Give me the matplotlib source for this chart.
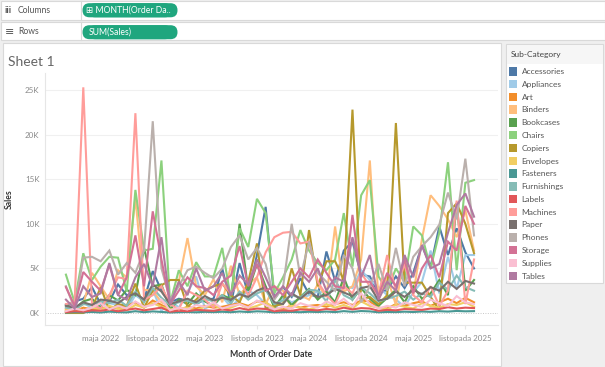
import matplotlib
matplotlib.use("Agg")
import matplotlib.pyplot as plt
from matplotlib.patches import Rectangle, FancyBboxPatch
import numpy as np

plt.rcParams['font.family'] = ['Lato', 'DejaVu Sans']

# ---------------- data (values in thousands of dollars) ----------------
months = list(range(48))  # Jan 2022 .. Dec 2025
tick_months = [4, 10, 16, 22, 28, 34, 40, 46]
tick_labels = ["maja 2022", "listopada 2022", "maja 2023", "listopada 2023",
               "maja 2024", "listopada 2024", "maja 2025", "listopada 2025"]
y_ticks = [0, 5000, 10000, 15000, 20000, 25000]
y_tick_labels = ["0K", "5K", "10K", "15K", "20K", "25K"]

subcategories = ["Accessories", "Appliances", "Art", "Binders", "Bookcases", "Chairs",
                 "Copiers", "Envelopes", "Fasteners", "Furnishings", "Labels", "Machines",
                 "Paper", "Phones", "Storage", "Supplies", "Tables"]
colors = ["#4e79a7", "#a0cbe8", "#f28e2b", "#ffbe7d", "#59a14f", "#8cd17d",
          "#b6992d", "#f1ce63", "#499894", "#86bcb6", "#e15759", "#ff9d9a",
          "#79706e", "#bab0ac", "#d37295", "#fabfd2", "#b07aa1"]

accessories = [0.9, 1.3, 1.6, 2.9, 1.0, 1.3, 3.2, 2.0, 2.2, 1.5, 4.7, 2.5,
               1.2, 1.6, 1.4, 1.0, 1.5, 1.6, 5.0, 1.0, 5.6, 2.0, 6.5, 11.9,
               1.6, 2.9, 1.8, 3.9, 2.1, 1.8, 6.9, 3.6, 7.0, 8.0, 4.3, 4.1,
               2.2, 2.6, 4.1, 2.8, 4.5, 7.6, 5.2, 9.7, 6.5, 9.5, 6.8, 5.0]
appliances = [0.6, 0.3, 1.2, 0.5, 0.8, 1.1, 0.9, 0.4, 2.0, 1.3, 2.6, 0.2,
              1.5, 0.6, 2.3, 4.1, 0.5, 1.0, 1.8, 0.7, 1.6, 2.5, 2.0, 1.0,
              0.3, 1.8, 1.2, 1.6, 2.0, 2.4, 2.3, 2.6, 3.0, 2.8, 4.8, 3.7,
              2.9, 2.0, 1.5, 0.7, 2.3, 3.5, 7.0, 2.2, 6.3, 2.7, 6.5, 6.5]
art = [0.3, 0.2, 0.6, 0.4, 0.5, 0.7, 0.5, 0.8, 1.2, 0.6, 1.4, 0.9,
       0.4, 0.3, 0.7, 0.5, 0.8, 0.6, 0.7, 0.9, 1.1, 0.8, 1.3, 1.2,
       0.5, 0.4, 0.9, 0.6, 0.8, 0.9, 0.7, 1.0, 1.2, 0.9, 1.4, 1.3,
       0.6, 0.5, 1.0, 0.8, 1.1, 1.3, 0.8, 1.2, 1.6, 1.1, 1.7, 1.2]
binders = [0.5, 0.3, 1.0, 4.5, 3.0, 1.5, 4.8, 4.0, 12.9, 2.6, 2.5, 1.2,
           0.8, 3.5, 8.4, 3.0, 2.0, 3.8, 1.2, 5.3, 2.0, 3.2, 4.0, 1.0,
           3.0, 2.5, 0.5, 2.0, 1.5, 3.2, 1.8, 9.7, 2.4, 3.0, 6.0, 17.1,
           1.5, 4.0, 0.9, 6.4, 2.0, 8.3, 13.2, 12.0, 10.5, 8.5, 11.5, 7.0]
bookcases = [0.9, 0.5, 1.3, 1.6, 0.6, 2.0, 1.4, 2.6, 2.0, 7.3, 3.0, 3.2,
             0.4, 1.5, 1.0, 2.2, 1.3, 0.8, 2.0, 1.6, 10.0, 2.5, 5.5, 3.0,
             0.6, 2.0, 0.9, 1.8, 2.7, 1.5, 2.4, 1.2, 4.0, 1.5, 2.8, 1.6,
             0.8, 1.7, 2.6, 1.2, 3.0, 1.6, 2.2, 3.7, 2.0, 12.3, 2.5, 3.7]
chairs = [4.3, 1.2, 6.7, 3.7, 5.2, 6.3, 6.2, 2.4, 13.8, 7.0, 7.2, 17.1,
          1.1, 4.8, 3.0, 5.7, 4.1, 4.1, 7.3, 1.6, 9.5, 7.4, 12.8, 11.2,
          2.2, 4.0, 6.0, 9.3, 7.0, 5.6, 4.8, 6.0, 11.2, 5.2, 13.2, 14.9,
          4.1, 2.5, 5.0, 3.5, 9.7, 8.7, 5.0, 9.0, 16.9, 4.8, 14.6, 14.9]
copiers = [0.0, 0.0, 0.0, 0.5, 2.9, 0.3, 1.0, 0.8, 3.3, 0.6, 2.5, 3.1,
           3.7, 3.7, 0.7, 1.5, 2.5, 3.0, 3.3, 2.0, 1.2, 3.5, 7.8, 0.5,
           0.8, 1.0, 5.0, 2.0, 9.3, 3.0, 5.8, 5.8, 3.7, 22.8, 1.5, 1.8,
           1.0, 2.0, 21.3, 3.4, 3.4, 3.4, 1.8, 0.3, 11.2, 12.3, 10.0, 6.7]
envelopes = [0.3, 0.5, 0.2, 0.6, 0.4, 0.8, 0.5, 0.3, 0.9, 0.6, 1.1, 0.7,
             0.4, 0.5, 0.6, 0.3, 0.7, 0.9, 0.4, 0.6, 1.0, 0.5, 0.8, 1.2,
             0.5, 0.3, 0.8, 0.6, 0.4, 0.7, 1.0, 0.6, 0.9, 0.5, 1.3, 0.8,
             0.6, 0.4, 0.9, 0.7, 0.5, 1.1, 0.8, 0.6, 1.0, 0.9, 1.2, 0.7]
fasteners = [0.05, 0.10, 0.08, 0.12, 0.06, 0.15, 0.10, 0.07, 0.20, 0.09, 0.18, 0.12,
             0.06, 0.09, 0.11, 0.08, 0.13, 0.10, 0.14, 0.09, 0.17, 0.11, 0.19, 0.15,
             0.07, 0.10, 0.12, 0.09, 0.14, 0.11, 0.16, 0.10, 0.21, 0.13, 0.22, 0.18,
             0.08, 0.12, 0.10, 0.15, 0.11, 0.17, 0.13, 0.20, 0.16, 0.23, 0.19, 0.21]
furnishings = [0.6, 0.4, 1.0, 0.9, 1.3, 1.1, 1.5, 0.8, 2.4, 1.2, 2.8, 1.7,
               0.9, 1.2, 1.4, 1.0, 1.6, 1.3, 2.0, 1.1, 2.4, 1.5, 2.2, 2.6,
               1.0, 1.4, 2.0, 1.7, 2.6, 2.5, 1.3, 3.7, 2.0, 1.5, 2.9, 2.2,
               1.3, 1.6, 1.9, 2.4, 1.5, 2.2, 1.8, 3.4, 2.6, 4.2, 2.9, 2.5]
labels = [0.10, 0.20, 0.15, 0.30, 0.25, 0.40, 0.20, 0.35, 0.50, 0.30, 0.45, 0.60,
          0.15, 0.25, 0.20, 0.35, 0.30, 0.25, 0.40, 0.30, 0.55, 0.35, 0.50, 0.45,
          0.20, 0.30, 0.25, 0.40, 0.35, 0.30, 0.45, 0.35, 0.60, 0.40, 0.55, 0.50,
          0.25, 0.35, 0.30, 0.45, 0.40, 0.35, 0.50, 0.45, 0.65, 0.50, 0.60, 0.55]
machines = [1.0, 1.2, 25.3, 1.0, 0.5, 2.0, 4.0, 3.8, 22.4, 1.5, 2.0, 3.0,
            1.0, 0.4, 2.5, 2.0, 1.5, 0.6, 3.3, 2.2, 3.5, 2.0, 4.0, 6.8,
            8.5, 9.0, 9.1, 7.8, 8.0, 3.5, 2.0, 1.0, 3.0, 2.2, 4.5, 3.0,
            2.0, 6.5, 2.5, 5.5, 2.0, 1.2, 3.0, 0.8, 2.5, 12.6, 1.0, 6.0]
paper = [0.8, 0.6, 1.2, 0.9, 1.5, 1.4, 1.1, 1.8, 2.2, 1.5, 3.2, 2.4,
         1.0, 1.3, 1.6, 1.2, 1.9, 1.4, 1.7, 1.5, 2.1, 1.8, 2.5, 2.9,
         1.2, 1.0, 2.2, 1.6, 2.4, 1.8, 2.0, 2.7, 2.3, 1.9, 2.8, 3.0,
         1.4, 1.6, 2.4, 1.8, 2.6, 2.1, 2.9, 2.5, 3.5, 2.7, 3.6, 3.3]
phones = [3.0, 0.5, 6.2, 6.3, 5.8, 7.0, 4.3, 5.6, 4.5, 7.0, 21.5, 5.0,
          1.5, 3.0, 4.8, 5.2, 4.5, 3.9, 5.0, 7.4, 8.7, 6.0, 7.3, 5.5,
          1.5, 2.9, 10.0, 4.0, 8.0, 4.5, 3.5, 2.5, 6.5, 5.0, 1.2, 3.0,
          5.5, 2.5, 7.3, 3.0, 6.3, 7.5, 8.5, 9.9, 13.5, 10.5, 17.3, 8.7]
storage = [2.9, 0.8, 4.6, 3.5, 2.5, 5.4, 2.0, 4.0, 8.7, 3.0, 11.4, 6.0,
           1.0, 2.5, 4.0, 3.0, 2.8, 2.0, 3.5, 4.2, 7.5, 3.0, 5.5, 2.5,
           3.0, 2.0, 3.5, 5.0, 4.0, 6.0, 4.5, 3.0, 2.8, 11.0, 3.5, 3.5,
           2.0, 4.5, 3.0, 6.0, 2.2, 5.0, 6.5, 4.0, 8.0, 7.0, 12.0, 10.0]
supplies = [0.2, 0.5, 0.3, 0.6, 1.1, 0.4, 0.8, 0.5, 1.3, 0.7, 0.9, 1.5,
            0.3, 0.6, 0.4, 0.9, 0.7, 1.2, 0.5, 0.8, 1.0, 0.6, 1.4, 0.9,
            0.4, 0.7, 0.5, 1.1, 0.8, 0.6, 1.3, 0.9, 1.6, 0.7, 2.2, 1.0,
            0.5, 0.8, 0.6, 1.2, 0.9, 0.7, 1.5, 1.1, 0.8, 1.9, 1.2, 1.0]
tables = [1.5, 0.5, 3.0, 1.8, 2.2, 5.6, 2.0, 1.5, 4.0, 5.5, 3.0, 8.5,
          1.0, 3.5, 2.0, 5.0, 2.5, 3.0, 4.5, 2.0, 4.2, 3.2, 6.0, 4.0,
          1.8, 3.0, 2.0, 4.5, 3.5, 5.0, 2.5, 4.0, 3.5, 8.5, 4.0, 6.5,
          1.5, 3.5, 2.5, 6.5, 4.0, 7.6, 5.0, 5.5, 9.0, 12.1, 13.4, 10.8]

series = [accessories, appliances, art, binders, bookcases, chairs, copiers,
          envelopes, fasteners, furnishings, labels, machines, paper, phones,
          storage, supplies, tables]

# ---------------- layout helpers ----------------
W, H = 605, 367
fig = plt.figure(figsize=(W / 100, H / 100), dpi=100)
fig.patch.set_facecolor("#efefef")

def frac(x0, y0, x1, y1):
    return [x0 / W, 1 - y1 / H, (x1 - x0) / W, (y1 - y0) / H]

bg = fig.add_axes([0, 0, 1, 1], zorder=0)
bg.set_xlim(0, W)
bg.set_ylim(H, 0)
bg.axis("off")

def box(x0, y0, x1, y1, fc="white", ec="#d9d9d9", lw=0.8):
    bg.add_patch(Rectangle((x0, y0), x1 - x0, y1 - y0, facecolor=fc, edgecolor=ec, lw=lw))

# shelves
box(0.5, 1, 604.5, 20)
box(0.5, 22, 604.5, 40)
bg.plot([80.5, 80.5], [1, 20], color="#d9d9d9", lw=0.8)
bg.plot([80.5, 80.5], [22, 40], color="#d9d9d9", lw=0.8)
bg.text(5, 10.5, "iii", fontsize=6.5, color="#555555", va="center", fontweight="bold")
bg.text(18, 10.5, "Columns", fontsize=6.2, color="#555555", va="center")
bg.text(4.5, 31.5, "\u2261", fontsize=8, color="#555555", va="center", family=["DejaVu Sans"])
bg.text(18, 31.5, "Rows", fontsize=6.2, color="#555555", va="center")
pill_c = "#1fa67e"
for (py0, py1, txt, tx) in [(3.2, 17.3, "\u229e MONTH(Order Da..", 86.5), (25.2, 39.2, "SUM(Sales)", 89)]:
    bg.add_patch(FancyBboxPatch((82.5 + 6, py0), 95 - 12, py1 - py0,
                                boxstyle="round,pad=0,rounding_size=6.5",
                                mutation_aspect=1, facecolor=pill_c, edgecolor="none"))
    bg.add_patch(FancyBboxPatch((82.5, py0), 95, py1 - py0,
                                boxstyle="round,pad=0,rounding_size=7",
                                facecolor=pill_c, edgecolor="none"))
    bg.text(tx, (py0 + py1) / 2 + 0.3, txt, fontsize=6.2, color="white", va="center",
            family=["Lato", "DejaVu Sans"])

# sheet panel
box(3, 43, 501, 366)
bg.text(8, 62, "Sheet 1", fontsize=10, color="#666666", va="center")

# legend panel
box(506, 44, 603, 283)
bg.add_patch(Rectangle((506.5, 44.5), 96, 19, facecolor="#f6f6f6", edgecolor="none"))
bg.text(511, 55, "Sub-Category", fontsize=6.0, color="#444444", va="center")
for i, (name, c) in enumerate(zip(subcategories, colors)):
    yc = 71.3 + i * 12.78
    bg.add_patch(Rectangle((509, yc - 4.2), 8.4, 8.4, facecolor=c, edgecolor="none"))
    bg.text(521.5, yc + 0.3, name, fontsize=6.0, color="#555555", va="center")

# ---------------- main plot ----------------
ax = fig.add_axes(frac(45, 73, 498, 325), zorder=1)
ax.set_facecolor("none")
for vals, c in zip(series, colors):
    ax.plot(months, np.array(vals) * 1000, color=c, lw=1.5, solid_joinstyle="miter", zorder=3)

ax.set_xlim(-2.41, 49.76)
ax.set_ylim(-1345, 26906)
ax.set_yticks(y_ticks)
ax.set_yticklabels(y_tick_labels)
ax.set_xticks(tick_months)
ax.set_xticklabels(tick_labels)
ax.tick_params(axis="y", length=0, labelsize=5.8, labelcolor="#8a8a8a", pad=4)
ax.tick_params(axis="x", length=3, color="#e6e6e6", labelsize=5.8, labelcolor="#8a8a8a", pad=4)
for yv in y_ticks[1:]:
    ax.axhline(yv, color="#f0f0f0", lw=0.8, zorder=1)
ax.axhline(0, color="#c8c8c8", lw=0.7, ls=(0, (1, 1.5)), zorder=1)
for s in ["top", "right"]:
    ax.spines[s].set_visible(False)
for s in ["left", "bottom"]:
    ax.spines[s].set_color("#e6e6e6")
    ax.spines[s].set_linewidth(0.8)
ax.set_ylabel("Sales", fontsize=6.2, color="#333333", fontweight="bold", labelpad=8)
ax.set_xlabel("Month of Order Date", fontsize=6.2, color="#333333", fontweight="bold", labelpad=6)

fig.savefig("out.png", dpi=100, facecolor=fig.get_facecolor())
